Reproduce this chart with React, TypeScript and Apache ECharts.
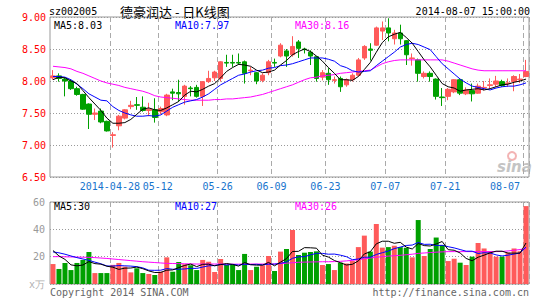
import React, { useEffect, useRef } from 'react';
import * as echarts from 'echarts';

const dates = [
  '2014-04-14','2014-04-15','2014-04-16','2014-04-17','2014-04-18','2014-04-21','2014-04-22','2014-04-23','2014-04-24','2014-04-25',
  '2014-04-28','2014-04-29','2014-04-30','2014-05-05','2014-05-06','2014-05-07','2014-05-08','2014-05-09','2014-05-12','2014-05-13',
  '2014-05-14','2014-05-15','2014-05-16','2014-05-19','2014-05-20','2014-05-21','2014-05-22','2014-05-23','2014-05-26','2014-05-27',
  '2014-05-28','2014-05-29','2014-05-30','2014-06-03','2014-06-04','2014-06-05','2014-06-06','2014-06-09','2014-06-10','2014-06-11',
  '2014-06-12','2014-06-13','2014-06-16','2014-06-17','2014-06-18','2014-06-19','2014-06-23','2014-06-24','2014-06-25','2014-06-26',
  '2014-06-27','2014-06-30','2014-07-01','2014-07-02','2014-07-03','2014-07-04','2014-07-07','2014-07-08','2014-07-09','2014-07-10',
  '2014-07-11','2014-07-14','2014-07-15','2014-07-16','2014-07-17','2014-07-18','2014-07-21','2014-07-22','2014-07-23','2014-07-24',
  '2014-07-25','2014-07-28','2014-07-29','2014-07-30','2014-07-31','2014-08-01','2014-08-04','2014-08-05','2014-08-06','2014-08-07'
];

const opens = [
  8.05,8.08,8.03,8.00,7.88,7.79,7.64,7.48,7.53,7.37,
  7.15,7.30,7.42,7.60,7.63,7.59,7.54,7.55,7.52,7.47,
  7.83,7.82,7.76,7.89,7.90,7.76,7.99,8.05,8.04,8.29,
  8.29,8.29,8.30,8.16,8.13,8.01,8.13,8.29,8.39,8.47,
  8.41,8.61,8.50,8.45,8.38,8.06,8.12,8.01,8.04,7.94,
  8.02,8.09,8.36,8.50,8.56,8.78,8.83,8.66,8.75,8.63,
  8.35,8.33,8.07,8.12,8.03,7.75,7.76,7.83,8.02,7.80,
  7.85,7.81,7.89,7.93,7.95,7.99,7.96,7.99,8.02,8.07
];
const closes = [
  8.08,8.04,8.00,7.88,7.79,7.56,7.48,7.50,7.36,7.22,
  7.16,7.45,7.55,7.62,7.62,7.54,7.56,7.43,7.57,7.78,
  7.81,7.80,7.92,7.88,7.76,7.99,8.04,8.14,8.30,8.28,
  8.28,8.28,8.12,8.17,8.00,8.09,8.30,8.28,8.56,8.39,
  8.54,8.51,8.49,8.39,8.04,8.13,8.02,8.02,7.91,8.02,
  8.09,8.33,8.54,8.48,8.83,8.83,8.75,8.75,8.66,8.41,
  8.36,8.12,8.12,8.07,7.76,7.74,7.87,8.02,7.81,7.86,
  7.80,7.92,7.90,7.94,8.00,7.93,7.97,8.07,8.03,8.15
];
const lows = [
  8.02,7.99,7.76,7.86,7.77,7.55,7.25,7.39,7.34,7.21,
  6.96,7.23,7.40,7.56,7.55,7.52,7.45,7.35,7.48,7.45,
  7.70,7.68,7.63,7.76,7.74,7.61,7.97,8.00,7.99,8.22,
  8.22,8.25,7.96,8.09,7.95,7.98,8.09,8.22,8.37,8.22,
  8.38,8.36,8.43,8.25,7.99,8.01,7.94,7.96,7.83,7.91,
  7.99,8.07,8.33,8.32,8.55,8.64,8.62,8.57,8.57,8.25,
  8.24,7.99,8.04,7.99,7.71,7.61,7.70,7.81,7.78,7.78,
  7.68,7.80,7.85,7.88,7.91,7.91,7.91,7.84,7.97,8.06
];
const highs = [
  8.17,8.12,8.05,8.03,7.91,7.80,7.65,7.57,7.57,7.38,
  7.20,7.47,7.56,7.69,7.75,7.76,7.66,7.73,7.60,7.80,
  7.88,8.02,7.94,7.92,7.94,8.00,8.16,8.16,8.31,8.41,
  8.41,8.43,8.32,8.22,8.14,8.12,8.33,8.35,8.59,8.50,
  8.70,8.64,8.52,8.48,8.39,8.17,8.20,8.07,8.07,8.04,
  8.12,8.36,8.56,8.59,8.85,8.93,8.98,8.80,8.88,8.64,
  8.43,8.35,8.15,8.15,8.04,7.89,7.89,8.03,8.03,7.90,
  7.96,7.96,8.00,8.04,8.08,8.02,8.04,8.09,8.11,8.33
];

const ma5 = [
  8.02,8.06,8.05,8.00,7.96,7.85,7.74,7.64,7.54,7.42,
  7.34,7.34,7.35,7.40,7.48,7.56,7.58,7.55,7.54,7.58,
  7.63,7.68,7.78,7.84,7.83,7.87,7.92,7.96,8.05,8.15,
  8.21,8.26,8.25,8.23,8.17,8.13,8.14,8.17,8.25,8.32,
  8.41,8.46,8.50,8.46,8.39,8.31,8.21,8.12,8.02,8.02,
  8.01,8.07,8.18,8.29,8.45,8.60,8.69,8.73,8.76,8.68,
  8.59,8.46,8.33,8.22,8.09,7.96,7.91,7.89,7.84,7.86,
  7.87,7.88,7.86,7.88,7.91,7.94,7.95,7.98,8.00,8.03
];
const ma10 = [
  8.07,8.07,8.06,8.02,7.95,7.88,7.80,7.75,7.70,7.69,
  7.60,7.54,7.50,7.47,7.45,7.45,7.46,7.45,7.47,7.53,
  7.59,7.63,7.67,7.69,7.71,7.75,7.80,7.87,7.94,7.99,
  8.04,8.09,8.11,8.14,8.16,8.17,8.20,8.21,8.24,8.25,
  8.27,8.30,8.33,8.36,8.36,8.36,8.34,8.31,8.24,8.21,
  8.16,8.14,8.15,8.16,8.24,8.31,8.38,8.45,8.53,8.57,
  8.59,8.57,8.53,8.49,8.38,8.27,8.19,8.11,8.03,7.97,
  7.92,7.90,7.88,7.86,7.89,7.91,7.92,7.92,7.94,7.97
];
const ma30 = [
  8.23,8.22,8.21,8.19,8.15,8.12,8.08,8.04,8.00,7.97,
  7.95,7.93,7.90,7.88,7.86,7.84,7.81,7.77,7.75,7.74,
  7.73,7.72,7.71,7.70,7.70,7.70,7.70,7.71,7.71,7.72,
  7.72,7.73,7.74,7.75,7.77,7.79,7.82,7.85,7.88,7.91,
  7.94,7.98,8.02,8.05,8.06,8.08,8.09,8.10,8.12,8.13,
  8.14,8.15,8.16,8.17,8.22,8.27,8.30,8.32,8.33,8.33,
  8.33,8.33,8.33,8.33,8.33,8.33,8.31,8.28,8.25,8.22,
  8.19,8.17,8.16,8.16,8.16,8.16,8.16,8.16,8.16,8.16
];

const volumes = [
  14.6,11.0,15.4,10.2,15.4,17.6,23.4,8.0,8.0,8.0,
  14.0,15.4,12.7,8.5,11.5,8.0,7.3,6.6,9.0,19.5,
  9.0,16.1,14.5,13.7,10.2,17.6,16.3,8.8,18.3,14.1,
  14.1,10.2,22.0,10.2,12.7,13.7,20.5,9.5,23.7,25.6,
  39.5,21.2,22.9,23.4,23.9,13.9,14.6,10.2,15.6,15.0,
  16.8,27.0,35.4,23.7,43.9,26.6,27.0,28.0,27.0,26.5,
  19.5,46.8,20.5,25.6,34.0,28.5,16.8,18.5,15.6,13.9,
  20,30,26,24,20,20,23,26,24,57
];
const volMa5 = [
  24.5,20.5,18.0,14.0,13.3,13.9,16.4,14.9,14.5,13.0,
  12.3,10.7,11.6,11.7,12.4,11.2,9.6,8.4,8.5,10.1,
  10.3,12.0,13.6,14.6,12.7,14.4,14.5,13.3,14.2,15.0,
  14.3,13.1,15.7,14.1,13.8,13.8,15.8,13.3,16.0,18.6,
  23.8,23.9,26.6,26.5,26.2,21.1,19.7,17.2,15.6,13.9,
  14.4,16.9,22.0,23.6,29.4,31.3,31.3,29.8,30.5,27.0,
  25.6,29.6,28.1,27.8,29.3,31.1,25.1,24.7,22.7,18.7,
  17.0,19.6,21.1,22.8,24.0,24.0,22.6,22.6,22.6,30.0
];
const volMa10 = [
  23.5,22.8,21.8,20.5,19.3,18.3,17.3,16.0,14.8,13.2,
  13.1,13.5,13.3,13.1,12.7,11.8,10.1,10.0,10.1,11.3,
  10.8,10.8,11.0,11.5,11.4,12.4,13.3,13.5,14.4,13.9,
  14.4,13.8,14.5,14.2,14.4,14.0,14.5,14.5,15.1,16.2,
  18.8,19.9,20.0,21.3,22.4,22.4,21.8,21.9,21.1,20.0,
  17.8,18.3,19.6,19.6,21.6,22.9,24.1,25.9,27.0,28.2,
  28.5,30.4,29.0,29.1,28.2,28.3,27.3,26.4,25.2,24.0,
  24.0,22.3,22.9,22.7,21.3,20.5,21.1,21.9,22.7,27.0
];
const volMa30 = [
  20.0,20.0,19.9,19.8,19.7,19.6,19.5,19.3,19.0,18.7,
  18.3,17.9,17.5,17.1,16.7,16.3,16.0,15.7,15.4,15.1,
  15.0,14.9,14.8,14.7,14.6,14.6,14.6,14.6,14.6,14.5,
  14.5,14.5,14.6,14.6,14.6,14.6,14.6,14.7,14.9,15.2,
  15.6,15.9,16.0,16.1,16.2,16.3,16.3,16.4,16.6,16.9,
  17.3,17.8,18.5,19.0,19.6,20.0,20.4,20.7,21.0,21.4,
  21.8,22.4,22.7,23.0,23.3,23.5,23.7,23.7,23.7,23.7,
  23.7,23.7,23.7,23.7,23.7,23.8,24.2,24.7,25.2,26.0
];

const labelDates = ['2014-04-28','2014-05-12','2014-05-26','2014-06-09','2014-06-23','2014-07-07','2014-07-21','2014-08-07'];
const fullLabelDate = '2014-04-28';
const stockCode = 'sz002005';
const chartTitle = '德豪润达 - 日K线图';
const timeStamp = '2014-08-07 15:00:00';

const RED = '#ff5a5a';
const GREEN = '#00a000';
const MONO = '"DejaVu Sans Mono", monospace';

export default function App() {
  const ref = useRef<HTMLDivElement>(null);
  useEffect(() => {
    if (!ref.current) return;
    const chart = echarts.init(ref.current, undefined, { renderer: 'svg' });
    const isLabel = (_i: number, v: string) => labelDates.indexOf(v) >= 0;
    const last = dates.length - 1;
    const xCommon = {
      type: 'category',
      data: dates,
      boundaryGap: true,
      axisLine: { show: false },
      axisTick: { show: false },
      splitLine: { show: true, interval: isLabel, lineStyle: { color: '#aaaaaa', width: 1, type: [5, 3] } },
    };
    const option: any = {
      animation: false,
      backgroundColor: '#ffffff',
      grid: [
        { left: 50, right: 16, top: 17, height: 160, show: true, borderColor: '#999999', borderWidth: 1 },
        { left: 50, right: 16, top: 202, height: 82, show: true, borderColor: '#999999', borderWidth: 1 },
      ],
      xAxis: [
        {
          ...xCommon,
          gridIndex: 0,
          axisLabel: {
            interval: isLabel,
            formatter: (v: string) => (v === fullLabelDate ? v : v.slice(5)),
            color: '#1874cd',
            fontSize: 10,
            fontFamily: MONO,
            margin: 4,
            padding: [0, 6, 0, 0],
            alignMaxLabel: 'right',
          },
        },
        { ...xCommon, gridIndex: 1, axisLabel: { show: false } },
      ],
      yAxis: [
        {
          type: 'value', gridIndex: 0, min: 6.5, max: 9, interval: 0.5,
          axisLine: { show: false }, axisTick: { show: false },
          axisLabel: { color: '#ff0000', fontSize: 10, fontFamily: MONO, margin: 4, formatter: (v: number) => v.toFixed(2) },
          splitLine: { show: true, lineStyle: { color: '#999999', type: [1, 2] } },
        },
        {
          type: 'value', gridIndex: 1, min: 0, max: 60, interval: 20,
          axisLine: { show: false }, axisTick: { show: false },
          axisLabel: {
            color: '#999999', fontSize: 10, fontFamily: MONO, margin: 5,
            formatter: (v: number) => (v === 0 ? '{u|x万}' : String(v)),
            rich: { u: { color: '#b0b0b0', fontSize: 10, fontFamily: MONO } },
          },
          splitLine: { show: true, lineStyle: { color: '#999999', type: [1, 2] } },
        },
      ],
      series: [
        {
          type: 'candlestick', xAxisIndex: 0, yAxisIndex: 0, barWidth: 5,
          data: dates.map((_, i) => [opens[i], closes[i], lows[i], highs[i]]),
          itemStyle: { color: RED, color0: GREEN, borderColor: RED, borderColor0: GREEN, borderWidth: 1 },
        },
        { type: 'line', xAxisIndex: 0, yAxisIndex: 0, data: ma30, symbol: 'none', lineStyle: { color: '#ff00ff', width: 1 } },
        { type: 'line', xAxisIndex: 0, yAxisIndex: 0, data: ma10, symbol: 'none', lineStyle: { color: '#0000ff', width: 1 } },
        { type: 'line', xAxisIndex: 0, yAxisIndex: 0, data: ma5, symbol: 'none', lineStyle: { color: '#000000', width: 1 } },
        {
          type: 'bar', xAxisIndex: 1, yAxisIndex: 1, barWidth: 5,
          data: volumes.map((v, i) => ({ value: v, itemStyle: { color: closes[i] >= opens[i] ? RED : GREEN } })),
        },
        { type: 'line', xAxisIndex: 1, yAxisIndex: 1, data: volMa30, symbol: 'none', lineStyle: { color: '#ff00ff', width: 1 } },
        { type: 'line', xAxisIndex: 1, yAxisIndex: 1, data: volMa10, symbol: 'none', lineStyle: { color: '#0000ff', width: 1 } },
        { type: 'line', xAxisIndex: 1, yAxisIndex: 1, data: volMa5, symbol: 'none', lineStyle: { color: '#000000', width: 1 } },
      ],
      graphic: [
        { type: 'text', x: 49, y: 11, style: { text: stockCode, fill: '#000', font: `10px ${MONO}`, verticalAlign: 'middle' } },
        { type: 'text', x: 120, y: 11, style: { text: chartTitle, fill: '#000', font: '13px "Noto Sans CJK SC"', verticalAlign: 'middle' } },
        { type: 'text', x: 530, y: 11, style: { text: timeStamp, fill: '#000', font: `10px ${MONO}`, align: 'right', verticalAlign: 'middle' } },
        { type: 'text', x: 54, y: 25, z: 10, style: { text: 'MA5:' + ma5[last].toFixed(2), fill: '#000000', font: `10px ${MONO}`, verticalAlign: 'middle' } },
        { type: 'text', x: 175, y: 25, z: 10, style: { text: 'MA10:' + ma10[last].toFixed(2), fill: '#0000ff', font: `10px ${MONO}`, verticalAlign: 'middle' } },
        { type: 'text', x: 295, y: 25, z: 10, style: { text: 'MA30:' + ma30[last].toFixed(2), fill: '#ff00ff', font: `10px ${MONO}`, verticalAlign: 'middle' } },
        { type: 'text', x: 54, y: 206, z: 10, style: { text: 'MA5:' + Math.round(volMa5[last]), fill: '#000000', font: `10px ${MONO}`, verticalAlign: 'middle' } },
        { type: 'text', x: 175, y: 206, z: 10, style: { text: 'MA10:' + Math.round(volMa10[last]), fill: '#0000ff', font: `10px ${MONO}`, verticalAlign: 'middle' } },
        { type: 'text', x: 295, y: 206, z: 10, style: { text: 'MA30:' + Math.round(volMa30[last]), fill: '#ff00ff', font: `10px ${MONO}`, verticalAlign: 'middle' } },
        { type: 'text', x: 50, y: 292, style: { text: 'Copyright 2014 SINA.COM', fill: '#666666', font: `10px ${MONO}`, verticalAlign: 'middle' } },
        { type: 'text', x: 529, y: 292, style: { text: 'http://finance.sina.com.cn', fill: '#666666', font: `10px ${MONO}`, align: 'right', verticalAlign: 'middle' } },
        { type: 'circle', shape: { cx: 512, cy: 156, r: 4 }, style: { fill: 'none', stroke: '#f3b4b4', lineWidth: 2 } },
        { type: 'text', x: 497, y: 167, style: { text: 'sina', fill: '#c4c4c4', font: 'italic bold 15px "DejaVu Sans"', verticalAlign: 'middle' } },
      ],
    };
    chart.setOption(option);
    return () => chart.dispose();
  }, []);
  return <div ref={ref} style={{ position: 'absolute', left: 0, top: 0, width: 545, height: 300 }} />;
}
